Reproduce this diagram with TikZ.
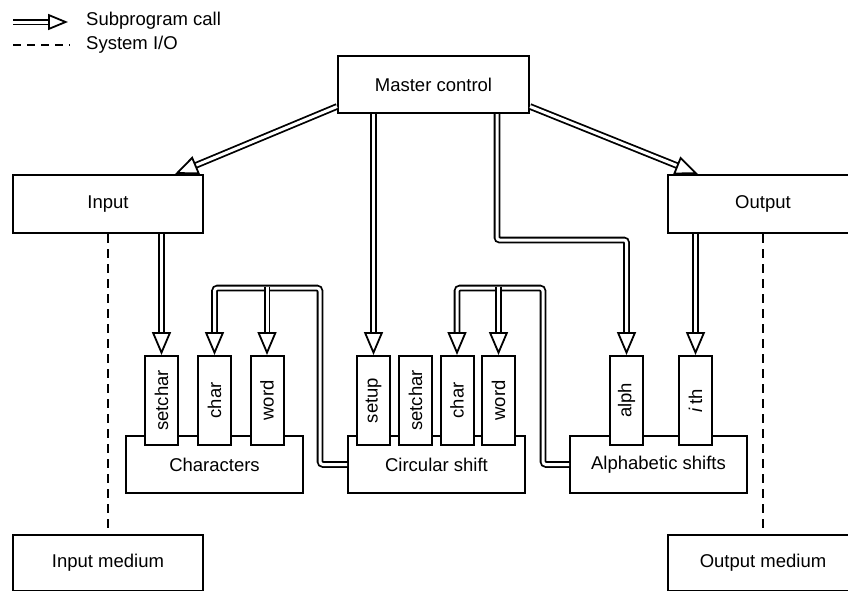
\documentclass[tikz,border=0pt]{standalone}
\usepackage{fontspec}
\setmainfont{Liberation Sans}
\usetikzlibrary{arrows.meta}
\tikzset{
  bigbox/.style={draw, line width=2pt, fill=white, inner sep=0pt, font=\fontsize{18.5}{22}\selectfont},
  smallbox/.style={draw, line width=2pt, fill=white, inner sep=0pt, minimum width=33pt, minimum height=89pt, font=\fontsize{18.5}{22}\selectfont},
  call/.style={double, double distance=3pt, line width=1.8pt, -{Triangle[open, length=23pt, width=19pt, fill=white]}},
  sysio/.style={line width=1.8pt, dash pattern=on 9pt off 6pt},
  lbl/.style={anchor=west, inner sep=0pt, font=\fontsize{18.5}{22}\selectfont}
}
\begin{document}
\begin{tikzpicture}[x=1pt, y=-1pt]
\useasboundingbox (0,0) rectangle (848,590);
\clip (0,0) rectangle (848,590);
% main boxes
\node[bigbox, minimum width=191pt, minimum height=57pt] (master) at (433.5,84.5) {Master control};
\node[bigbox, minimum width=190pt, minimum height=58pt] (input) at (108,204) {Input};
\node[bigbox, minimum width=190pt, minimum height=58pt] (output) at (763,204) {Output};
\node[bigbox, minimum width=177pt, minimum height=57pt] (chars) at (214.5,464.5) {\raisebox{-2.5pt}{Characters}};
\node[bigbox, minimum width=177pt, minimum height=57pt] (circ) at (436.5,464.5) {\raisebox{-2.5pt}{Circular shift}};
\node[bigbox, minimum width=177pt, minimum height=57pt] (alpha) at (658.5,464.5) {\raisebox{-2.5pt}{Alphabetic shifts}};
\node[bigbox, minimum width=190pt, minimum height=56pt] (inmed) at (108,563) {Input medium};
\node[bigbox, minimum width=190pt, minimum height=56pt] (outmed) at (763,563) {Output medium};
% small boxes
\node[smallbox] (sc1) at (161.5,400.5) {\rotatebox{90}{setchar}};
\node[smallbox] (ch1) at (214.5,400.5) {\rotatebox{90}{char}};
\node[smallbox] (wd1) at (267,400.5) {\rotatebox{90}{word}};
\node[smallbox] (su2) at (373.5,400.5) {\rotatebox{90}{setup}};
\node[smallbox] (sc2) at (415.5,400.5) {\rotatebox{90}{setchar}};
\node[smallbox] (ch2) at (457,400.5) {\rotatebox{90}{char}};
\node[smallbox] (wd2) at (498.5,400.5) {\rotatebox{90}{word}};
\node[smallbox] (al3) at (626.5,400.5) {\rotatebox{90}{alph}};
\node[smallbox] (th3) at (695.5,400.5) {\rotatebox{90}{\textit{i}\,th}};
% system I/O
\draw[sysio] (input.south) -- (inmed.north);
\draw[sysio] (output.south) -- (outmed.north);
% calls from master
\draw[call] ([yshift=-22pt]master.west) -- ([xshift=67pt]input.north);
\draw[call] ([yshift=-22pt]master.east) -- ([xshift=-65pt]output.north);
\draw[call] (master.south -| su2.north) -- (su2.north);
\coordinate (m2) at (497,240);
\draw[call, rounded corners=2.5pt] (master.south -| m2) -- (m2) -| (al3.north);
% input / output calls
\draw[call] (input.south -| sc1.north) -- (sc1.north);
\draw[call] (output.south -| th3.north) -- (th3.north);
% loops
\coordinate (l1) at (320,288);
\coordinate (b1) at (267,286.5);
\draw[call, rounded corners=3pt] (circ.west) -| (l1) -| (ch1.north);
\draw[call] (wd1.north |- b1) -- (wd1.north);
\coordinate (l2) at (543,288);
\coordinate (b2) at (498.5,286.5);
\draw[call, rounded corners=3pt] (alpha.west) -| (l2) -| (ch2.north);
\draw[call] (wd2.north |- b2) -- (wd2.north);
% legend
\coordinate (la1) at (13,22);
\coordinate (la2) at (68,22);
\draw[call, -{Triangle[open, length=20pt, width=16pt, fill=white]}] (la1) -- (la2);
\node[lbl] (lt1) at (86,21) {Subprogram call};
\coordinate (lb1) at (13,45);
\coordinate (lb2) at (70,45);
\draw[line width=1.8pt, dash pattern=on 8pt off 6pt] (lb1) -- (lb2);
\node[lbl] (lt2) at (86,45) {System I/O};
\end{tikzpicture}
\end{document}
